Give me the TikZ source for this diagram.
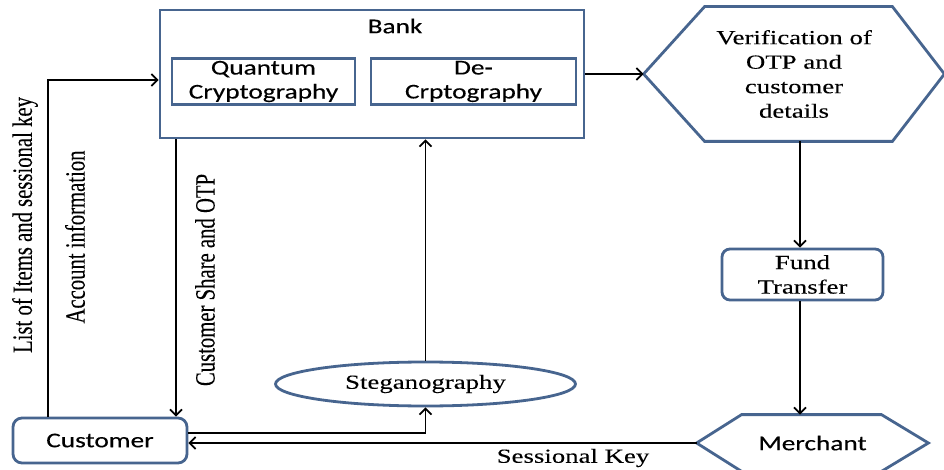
\documentclass[tikz,border=0pt]{standalone}
\usepackage{fontspec}
\setmainfont{Liberation Serif}[FakeStretch=1.34,FakeBold=0.15]
\newfontfamily\calfont{Carlito}[FakeStretch=1.3,FakeBold=0.25]
\newfontfamily\serifplain{Liberation Serif}[FakeBold=0.15]
\usetikzlibrary{arrows.meta,shapes.geometric,calc}
\definecolor{bordercol}{HTML}{47658F}
\begin{document}
\begin{tikzpicture}[x=1pt,y=-1pt,
  box/.style={draw=bordercol,line width=2.8pt,inner sep=0pt,align=center},
  sansbox/.style={box,font=\calfont\fontsize{21}{24}\selectfont},
  serifbox/.style={box,font=\fontsize{20}{24.5}\selectfont},
  hexline/.style={draw=bordercol,line width=2.8pt,line join=miter},
  arr/.style={draw=black,line width=1.7pt,-{Straight Barb[length=6pt,width=12pt]}},
  vlabel/.style={rotate=90,inner sep=0pt,font=\serifplain\fontsize{20.7}{24}\selectfont},
  hlabel/.style={inner sep=0pt,font=\fontsize{20}{24}\selectfont},
]
\useasboundingbox (0,0) rectangle (944,470);
\fill[white] (0,0) rectangle (944,470);

% Bank and inner boxes
\node[box, minimum width=424pt, minimum height=128pt] (bank) at (372,74) {};
\node[inner sep=0pt, font=\calfont\fontsize{21}{24}\selectfont] (banklabel) at (395,26) {Bank};
\node[sansbox, minimum width=183pt, minimum height=46pt] (quantum) at (263.5,81.5) {Quantum\\Cryptography};
\node[sansbox, minimum width=205pt, minimum height=46pt] (decrypt) at (473.5,81.5) {De-\\Crptography};

% Verification hexagon
\node[serifbox, draw=none, minimum width=298pt, minimum height=132pt] (verify) at (794,74) {Verification of\\OTP and\\customer\\details};
\draw[hexline] (verify.west) -- ($(verify.north west)+(61,0)$) -- ($(verify.north east)+(-52,0)$)
  -- (verify.east) -- ($(verify.south east)+(-52,0)$) -- ($(verify.south west)+(61,0)$) -- cycle;

% Fund transfer
\node[serifbox, rounded corners=8pt, minimum width=161pt, minimum height=51pt] (fund) at (802.5,274.5) {Fund\\Transfer};

% Merchant hexagon
\node[sansbox, draw=none, minimum width=229pt, minimum height=54pt] (merchant) at (812.5,443) {Merchant};
\draw[hexline] (merchant.west) -- ($(merchant.north west)+(45,0)$) -- ($(merchant.north east)+(-47,0)$)
  -- (merchant.east) -- ($(merchant.south east)+(-47,0)$) -- ($(merchant.south west)+(45,0)$) -- cycle;

% Customer
\node[sansbox, rounded corners=9pt, minimum width=174pt, minimum height=45pt] (customer) at (100,440.5) {Customer};

% Steganography
\node[serifbox, ellipse, minimum width=300pt, minimum height=44pt] (steg) at (425.5,384) {Steganography};

% Connectors
\coordinate (c1) at (48,80);
\draw[arr] (customer.north -| c1) -- (c1) -- (c1 -| bank.west);
\coordinate (c2) at (176,0);
\draw[arr] (bank.south -| c2) -- (customer.north -| c2);
\coordinate (c3) at (0,433);
\draw[arr] (customer.east |- c3) -| (steg.south);
\draw[arr] (merchant.west) -- (customer.east |- merchant.west);
\draw[arr] (steg.north) -- (bank.south -| steg.north);
\draw[arr] (bank.east) -- (verify.west);
\coordinate (c5) at (800,0);
\draw[arr] (verify.south -| c5) -- (fund.north -| c5);
\draw[arr] (fund.south -| c5) -- (merchant.north -| c5);

% Labels
\node[vlabel] (lbl1) at (25,225) {\scalebox{1}[1.35]{List of Items and sessional key}};
\node[vlabel] (lbl2) at (75,237) {\scalebox{1}[1.35]{Account information}};
\node[vlabel] (lbl3) at (205,280) {\scalebox{1}[1.35]{Customer Share and OTP}};
\node[hlabel] (lbl4) at (573,458) {Sessional Key};
\end{tikzpicture}
\end{document}
